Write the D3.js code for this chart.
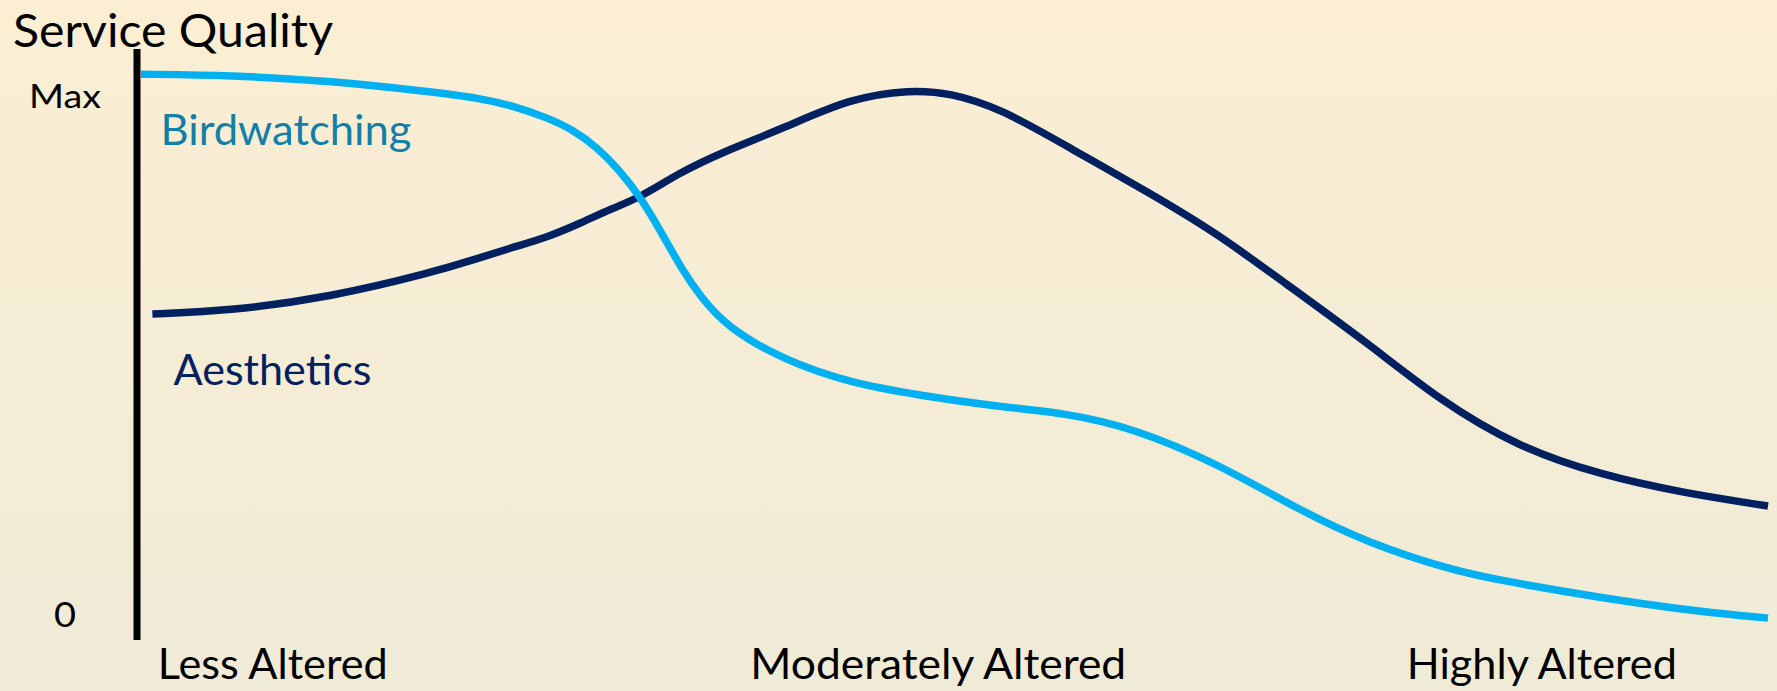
<!DOCTYPE html>
<html>
<head>
<meta charset="utf-8">
<script src="https://cdn.jsdelivr.net/npm/d3@7"></script>
<style>
  html, body { margin: 0; padding: 0; }
  svg { display: block; font-family: Lato, "Open Sans", sans-serif; }
</style>
</head>
<body>
<svg id="chart" width="1777" height="691"></svg>
<script>
// values (x: 0 = less altered .. 100 = highly altered, y: 0 .. 100 = Max)
var birdX = [0, 5.5, 11.7, 17.8, 20.8, 22.9, 25.0, 26.6, 28.0, 29.4, 30.7, 31.9, 33.3, 34.4, 36.0, 39.5, 43.6, 47.7, 52.8, 56.9, 61.0, 66.1, 71.2, 75.4, 80.5, 83.5, 89.7, 95.8, 100];
var birdY = [104.2, 104.0, 102.9, 100.8, 99.6, 98.1, 95.8, 93.4, 90.2, 85.7, 80.5, 74.2, 66.3, 61.3, 55.5, 49.1, 44.7, 42.4, 40.1, 38.9, 36.0, 29.3, 20.2, 13.9, 8.7, 6.7, 3.3, 0.6, -0.6];

var aesX = [0.7, 5.5, 11.7, 17.8, 20.8, 22.9, 25.0, 27.0, 29.0, 30.7, 33.1, 35.6, 39.5, 43.6, 47.3, 49.7, 52.8, 57.3, 62.0, 66.1, 70.2, 75.4, 79.8, 84.6, 89.7, 94.8, 100];
var aesY = [58.0, 58.6, 61.3, 65.9, 68.8, 70.9, 72.8, 75.5, 78.4, 80.5, 85.2, 89.0, 93.8, 99.6, 101.2, 100.6, 97.7, 89.6, 81.3, 73.6, 64.2, 52.4, 41.4, 32.4, 27.0, 23.5, 21.0];

var categories = ["Less Altered", "Moderately Altered", "Highly Altered"];
var categoryPos = [8.1, 49.0, 86.1];

var yTickLabels = ["0", "Max"];
var yTickValues = [0, 100];

var seriesNames = ["Birdwatching", "Aesthetics"];

var W = 1777, H = 691;
var svg = d3.select("#chart");

// background gradient
var defs = svg.append("defs");
var grad = defs.append("linearGradient")
    .attr("id", "bg")
    .attr("x1", 0).attr("y1", 0).attr("x2", 0).attr("y2", 1);
grad.append("stop").attr("offset", "0%").attr("stop-color", "#fbeed3");
grad.append("stop").attr("offset", "100%").attr("stop-color", "#efebd7");
svg.append("rect")
    .attr("width", W).attr("height", H)
    .attr("fill", "url(#bg)");

var x = d3.scaleLinear().domain([0, 100]).range([141, 1768]);
var y = d3.scaleLinear().domain([0, 100]).range([615, 96]);

// b-spline smooths out the small reading errors in the points
var line = d3.line()
    .x(function (d) { return x(d[0]); })
    .y(function (d) { return y(d[1]); })
    .curve(d3.curveBasis);

var series = [
    {name: seriesNames[0], pts: d3.zip(birdX, birdY), color: "#00b0f0", text: "#137fa8", lx: 1.2, ly: 90.6, w: 251},
    {name: seriesNames[1], pts: d3.zip(aesX, aesY), color: "#002060", text: "#002060", lx: 2.0, ly: 44.3, w: 198}
];

// y axis bar
svg.append("line")
    .attr("x1", 137).attr("x2", 137)
    .attr("y1", 49).attr("y2", 640)
    .attr("stroke", "#000")
    .attr("stroke-width", 7);

// aesthetics drawn first, birdwatching on top
svg.selectAll("path.curve")
    .data(series.slice().reverse())
    .enter().append("path")
    .attr("class", "curve")
    .attr("d", function (d) { return line(d.pts); })
    .attr("fill", "none")
    .attr("stroke", function (d) { return d.color; })
    .attr("stroke-width", 7.5);

svg.selectAll("text.series")
    .data(series)
    .enter().append("text")
    .attr("class", "series")
    .attr("x", function (d) { return x(d.lx); })
    .attr("y", function (d) { return y(d.ly); })
    .attr("fill", function (d) { return d.text; })
    .attr("font-size", 42)
    .attr("textLength", function (d) { return d.w; })
    .attr("lengthAdjust", "spacingAndGlyphs")
    .text(function (d) { return d.name; });

// y tick labels
var yLabelW = {"0": 22, "Max": 72};
svg.selectAll("text.ytick")
    .data(d3.zip(yTickLabels, yTickValues))
    .enter().append("text")
    .attr("class", "ytick")
    .attr("x", 65)
    .attr("y", function (d) { return y(d[1]) + 12; })
    .attr("text-anchor", "middle")
    .attr("font-size", function (d) { return d[0] === "0" ? 35 : 33.5; })
    .attr("textLength", function (d) { return yLabelW[d[0]]; })
    .attr("lengthAdjust", "spacingAndGlyphs")
    .text(function (d) { return d[0]; });

// category labels along the bottom
var catW = [230, 376, 270];
svg.selectAll("text.cat")
    .data(categories)
    .enter().append("text")
    .attr("class", "cat")
    .attr("x", function (d, i) { return x(categoryPos[i]); })
    .attr("y", 679)
    .attr("text-anchor", "middle")
    .attr("font-size", 42)
    .attr("textLength", function (d, i) { return catW[i]; })
    .attr("lengthAdjust", "spacingAndGlyphs")
    .text(function (d) { return d; });

// axis title
svg.append("text")
    .attr("x", 13)
    .attr("y", 47)
    .attr("font-size", 47)
    .attr("textLength", 320)
    .attr("lengthAdjust", "spacingAndGlyphs")
    .text("Service Quality");
</script>
</body>
</html>
